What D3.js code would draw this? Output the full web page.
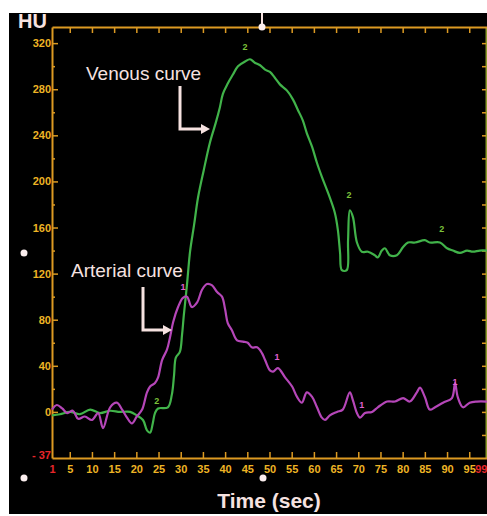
<!DOCTYPE html>
<html>
<head>
<meta charset="utf-8">
<script src="https://cdn.jsdelivr.net/npm/d3@7"></script>
<style>
  body { margin: 0; background: #fff; }
  svg { display: block; }
</style>
</head>
<body>
<svg id="chart" width="487" height="516"></svg>
<script>
// Venous curve (green), time in sec, HU
var venousTime = [1, 2.8, 5.1, 7.3, 9.6, 11.8, 14.1, 16.3, 18.6, 20.1, 21.5, 22.4, 23.1, 23.7, 24.2, 24.9, 27.1, 28.0, 28.5, 28.9, 29.8, 30.3, 30.7, 31.4, 32.1, 33.0, 33.9, 35.2, 36.6, 37.9, 38.8, 39.5, 40.6, 41.8, 42.9, 44.5, 45.6, 46.7, 47.8, 49.0, 50.1, 51.2, 52.4, 53.9, 55.3, 56.4, 57.5, 58.4, 59.6, 60.7, 61.8, 63.2, 64.7, 65.4, 65.9, 66.3, 67.4, 67.7, 68.1, 68.8, 69.7, 70.8, 72.2, 73.7, 74.4, 75.3, 76.0, 77.1, 78.7, 80.1, 81.2, 82.8, 85.0, 86.1, 88.4, 90.0, 91.3, 92.9, 94.5, 95.8, 97.4, 99];
var venousHU = [-3, -2, 0, -2, 2, -1, 1, 0, 0, -3, -7, -16, -18, -10, -1, 3, 4, 15, 32, 47, 52, 67, 84, 110, 139, 162, 186, 210, 234, 251, 264, 276, 285, 293, 300, 304, 306, 303, 301, 297, 295, 290, 284, 279, 271, 262, 253, 242, 230, 216, 204, 190, 173, 158, 138, 123, 123, 149, 175, 169, 147, 139, 139, 136, 134, 140, 142, 136, 136, 143, 147, 147, 149, 147, 147, 142, 140, 138, 140, 139, 140, 140];

// Arterial curve (magenta)
var arterialTime = [1, 2.1, 3.3, 4.4, 5.7, 6.9, 8.4, 10.0, 11.4, 12.5, 14.1, 15.6, 16.8, 17.9, 19.0, 20.1, 21.3, 22.4, 23.1, 24.2, 24.9, 25.8, 26.9, 27.6, 28.3, 29.4, 30.5, 31.4, 32.5, 33.7, 34.8, 35.9, 37.0, 38.2, 39.3, 40.0, 40.6, 41.5, 42.7, 44.0, 45.1, 46.0, 47.2, 48.3, 49.0, 50.1, 50.8, 51.9, 53.5, 55.1, 56.2, 57.3, 58.4, 59.6, 60.7, 61.8, 62.5, 63.6, 65.2, 66.5, 68.1, 68.8, 69.7, 70.4, 71.5, 73.1, 74.4, 76.5, 78.3, 80.1, 81.6, 83.2, 83.9, 85.0, 86.1, 87.3, 89.1, 91.1, 91.8, 92.4, 93.6, 95.1, 96.7, 99];
var arterialHU = [2, 6, 3, -1, 1, -6, -4, -7, -1, -14, 4, 8, 2, -5, -10, -4, 2, 17, 22, 25, 30, 45, 54, 65, 78, 91, 99, 100, 91, 95, 106, 111, 110, 104, 100, 89, 77, 71, 62, 61, 60, 56, 56, 51, 45, 36, 35, 38, 30, 22, 13, 8, 17, 13, 4, -5, -7, -3, 0, 2, 17, 10, -1, -5, -1, 0, 4, 9, 9, 12, 9, 17, 21, 13, 2, 4, 8, 12, 25, 13, 4, 8, 9, 9];

// small curve markers
var venousMarkT = [24.6, 44.5, 67.9, 88.8];
var venousMarkHU = [7, 314, 186, 156];
var arterialMarkT = [30.5, 51.7, 70.8, 91.8];
var arterialMarkHU = [106, 45, 3, 23];

// axis ticks
var yLabels = [-37, 0, 40, 80, 120, 160, 200, 240, 280, 320];
var yMinor = [20, 60, 100, 140, 180, 220, 260, 300];
var xLabels = [1, 5, 10, 15, 20, 25, 30, 35, 40, 45, 50, 55, 60, 65, 70, 75, 80, 85, 90, 95, 99];
var xTicks = d3.range(5, 100, 5);
var rightTicks = d3.range(-20, 340, 20);

var svg = d3.select('#chart');
var axisColor = '#dc9a22';
var labelColor = '#eeb425';
var red = '#e8262a';
var textColor = '#f6e2e0';

// black panel
svg.append('rect').attr('x', 9).attr('y', 13).attr('width', 478).attr('height', 501).attr('fill', '#000');

var x = d3.scaleLinear().domain([1, 99]).range([52, 487]);
var y = d3.scaleLinear().domain([-40, 334]).range([458, 27]);

function styleAxis(g) {
  g.selectAll('.domain').attr('stroke', axisColor).attr('stroke-width', 2);
  g.selectAll('.tick line').attr('stroke', axisColor).attr('stroke-width', 1.5);
  g.selectAll('.tick text').attr('fill', labelColor)
    .attr('font-family', 'Liberation Sans Narrow, Liberation Sans, sans-serif')
    .attr('font-size', 11).attr('font-weight', 'bold');
}

// right axis
svg.append('g').attr('transform', 'translate(486,0)')
  .call(d3.axisRight(y).tickValues(rightTicks).tickSizeInner(-4).tickSizeOuter(0).tickFormat(''))
  .call(styleAxis)
  .select('.domain').attr('stroke', '#8a9a2a');

// top axis
svg.append('g').attr('transform', 'translate(0,' + y(334) + ')')
  .call(d3.axisTop(x).tickValues(xTicks).tickSizeInner(-6).tickSizeOuter(0).tickFormat(''))
  .call(styleAxis);

// bottom axis
var gx = svg.append('g').attr('transform', 'translate(0,' + y(-40) + ')')
  .call(d3.axisBottom(x).tickValues(xLabels).tickSizeInner(-6).tickSizeOuter(0).tickPadding(7))
  .call(styleAxis);
gx.selectAll('.tick').filter(function (d) { return d === 1 || d === 99; })
  .select('line').remove();
gx.selectAll('.tick text').filter(function (d) { return d === 1 || d === 99; }).attr('fill', red);
gx.selectAll('.tick text').filter(function (d) { return d === 99; }).attr('text-anchor', 'end');

// left axis
var gy = svg.append('g').attr('transform', 'translate(' + x(1) + ',0)')
  .call(d3.axisLeft(y).tickValues(yLabels).tickSizeInner(-6).tickSizeOuter(0).tickPadding(1)
    .tickFormat(function (d) { return d === -37 ? '- 37' : d; }))
  .call(styleAxis);
gy.selectAll('.tick').filter(function (d) { return d === -37; }).select('line').remove();
gy.selectAll('.tick text').filter(function (d) { return d === -37; }).attr('fill', red);
svg.append('g').attr('transform', 'translate(' + x(1) + ',0)')
  .call(d3.axisLeft(y).tickValues(yMinor).tickSizeInner(-3).tickSizeOuter(0).tickFormat(''))
  .call(styleAxis)
  .select('.domain').remove();

// curves
var line = d3.line().x(function (d) { return x(d[0]); }).y(function (d) { return y(d[1]); }).curve(d3.curveCatmullRom);

svg.append('path')
  .datum(venousTime.map(function (t, i) { return [t, venousHU[i]]; }))
  .attr('d', line).attr('fill', 'none').attr('stroke', '#41b34a').attr('stroke-width', 2.2);

svg.append('path')
  .datum(arterialTime.map(function (t, i) { return [t, arterialHU[i]]; }))
  .attr('d', line).attr('fill', 'none').attr('stroke', '#b546b8').attr('stroke-width', 2.2);

// markers on curves
venousMarkT.forEach(function (t, i) {
  svg.append('text').attr('x', x(t)).attr('y', y(venousMarkHU[i]))
    .attr('text-anchor', 'middle').attr('font-family', 'Liberation Sans, sans-serif')
    .attr('font-size', 9).attr('font-weight', 'bold').attr('fill', '#7cc23a').text('2');
});
arterialMarkT.forEach(function (t, i) {
  svg.append('text').attr('x', x(t)).attr('y', y(arterialMarkHU[i]))
    .attr('text-anchor', 'middle').attr('font-family', 'Liberation Sans, sans-serif')
    .attr('font-size', 9).attr('font-weight', 'bold').attr('fill', '#e060d0').text('1');
});

// annotations
function label(txt, tx, ty, ax, ay1, ay2, tipX) {
  svg.append('text').attr('x', tx).attr('y', ty)
    .attr('font-family', 'Liberation Sans, Arial, sans-serif').attr('font-size', 19)
    .attr('fill', textColor).text(txt);
  svg.append('path')
    .attr('d', 'M' + ax + ',' + ay1 + 'V' + ay2 + 'H' + (tipX - 8))
    .attr('fill', 'none').attr('stroke', textColor).attr('stroke-width', 3);
  svg.append('path')
    .attr('d', 'M' + (tipX - 9) + ',' + (ay2 - 5) + 'L' + tipX + ',' + ay2 + 'L' + (tipX - 9) + ',' + (ay2 + 5) + 'Z')
    .attr('fill', textColor);
}
label('Venous curve', 86, 80, 180, 86, 129, 210);
label('Arterial curve', 71, 277, 143, 287, 330, 172);

// axis titles
svg.append('text').attr('x', 18).attr('y', 28)
  .attr('font-family', 'Liberation Sans, Arial, sans-serif').attr('font-size', 20).attr('font-weight', 'bold')
  .attr('fill', textColor).text('HU');
svg.append('text').attr('x', 269).attr('y', 508).attr('text-anchor', 'middle')
  .attr('font-family', 'Liberation Sans, Arial, sans-serif').attr('font-size', 21).attr('font-weight', 'bold')
  .attr('fill', textColor).text('Time (sec)');

// white cursor marks
svg.append('line').attr('x1', 262).attr('x2', 262).attr('y1', 13).attr('y2', 27)
  .attr('stroke', textColor).attr('stroke-width', 2);
[[262, 27], [24, 253], [24, 478], [263, 478]].forEach(function (p) {
  svg.append('circle').attr('cx', p[0]).attr('cy', p[1]).attr('r', 3.5).attr('fill', '#fbeeee');
});
</script>
</body>
</html>
